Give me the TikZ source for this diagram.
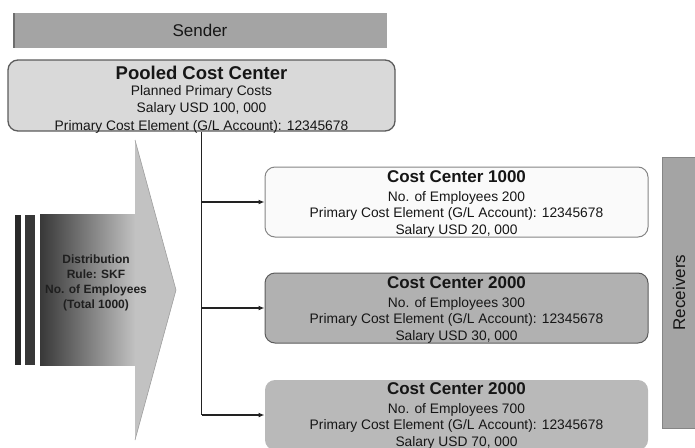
\documentclass[tikz,border=0pt]{standalone}
\usepackage{fontspec}
\setmainfont{Liberation Sans}
\usetikzlibrary{arrows.meta}
\definecolor{bargrey}{HTML}{A4A4A4}
\definecolor{bardark}{HTML}{6E6E6E}
\definecolor{pooledfill}{HTML}{D9D9D9}
\definecolor{boxline}{HTML}{5C5C5C}
\definecolor{lightline}{HTML}{858585}
\definecolor{whitebox}{HTML}{FAFAFA}
\definecolor{greybox}{HTML}{B1B1B1}
\definecolor{greybox3}{HTML}{B9B9B9}
\definecolor{linecol}{HTML}{222222}
\definecolor{txtcol}{HTML}{161616}
\tikzset{
  bandbox/.style={fill=bargrey, draw=none, inner sep=0pt, text=txtcol},
  ccbox/.style={rounded corners=10pt, minimum width=383pt, minimum height=70pt, inner sep=0pt, line width=1pt},
  cctext/.style={align=center, text=txtcol, font=\fontsize{13.8}{16.5}\selectfont, inner sep=0pt},
  flow/.style={draw=linecol, line width=1.4pt},
  flowarrow/.style={flow, -{Latex[length=6pt,width=5pt]}},
}
\begin{document}
\begin{tikzpicture}[x=1pt,y=-1pt]
\useasboundingbox (0,0) rectangle (695,447);
% Sender band
\node[bandbox, minimum width=374pt, minimum height=35pt, font=\fontsize{17}{20}\selectfont] (sender) at (200,30.5) {Sender};
\fill[bardark] (sender.north west) rectangle ([xshift=2pt]sender.south west);
% Pooled cost center
\node[ccbox, fill=pooledfill, draw=boxline, line width=1.3pt, minimum width=387pt, minimum height=71pt] (pooled) at (201.5,95.5) {};
\node[cctext] (pooledtxt) at (201.5,99.5) {{\fontsize{18.5}{17}\selectfont\bfseries Pooled Cost Center}\\[-0.5pt]
Planned Primary Costs\\[1pt]
Salary USD 100, 000\\[1pt]
Primary Cost Element (G/L Account): 12345678};
% Receivers band
\node[bandbox, draw=lightline, line width=0.8pt, minimum width=38pt, minimum height=271pt] (receivers) at (681,292.5) {};
\node[rotate=90, text=txtcol, font=\fontsize{17}{20}\selectfont, inner sep=0pt] (receiverstxt) at (679,292.5) {Receivers};
% Cost center boxes
\node[ccbox, fill=whitebox, draw=lightline] (c1) at (456.5,202) {};
\node[cctext] (c1txt) at (456.5,203.5) {{\fontsize{17}{16.5}\selectfont\bfseries Cost Center 1000}\\[2.5pt]
No. of Employees 200\\
Primary Cost Element (G/L Account): 12345678\\
Salary USD 20, 000};
\node[ccbox, fill=greybox, draw=boxline] (c2) at (456.5,308) {};
\node[cctext] (c2txt) at (456.5,309.5) {{\fontsize{17}{16.5}\selectfont\bfseries Cost Center 2000}\\[2.5pt]
No. of Employees 300\\
Primary Cost Element (G/L Account): 12345678\\
Salary USD 30, 000};
\node[ccbox, fill=greybox3, draw=none] (c3) at (456.5,415) {};
\node[cctext] (c3txt) at (456.5,415.5) {{\fontsize{17}{16.5}\selectfont\bfseries Cost Center 2000}\\[2.5pt]
No. of Employees 700\\
Primary Cost Element (G/L Account): 12345678\\
Salary USD 70, 000};
% Connectors
\draw[flow] (pooled.south) -- (pooled.south |- c3.west);
\draw[flowarrow] (pooled.south |- c1.west) -- (c1.west);
\draw[flowarrow] (pooled.south |- c2.west) -- (c2.west);
\draw[flowarrow] (pooled.south |- c3.west) -- (c3.west);
% Distribution arrow
\fill[black!84] (15,215) rectangle (21,365);
\fill[black!78] (25,215) rectangle (35,365);
\shade[left color=black!78, right color=black!24] (40,214) rectangle (135.5,365);
\fill[black!24] (135,140) -- (176,290) -- (135,440) -- cycle;
\draw[black!38, line width=0.6pt] (135,140) -- (176,290) -- (135,440);
\node[align=center, text=black!88, font=\fontsize{12}{15}\selectfont\bfseries, inner sep=0pt] (rule) at (96,283) {Distribution\\Rule: SKF\\No. of Employees\\(Total 1000)};
\end{tikzpicture}
\end{document}
